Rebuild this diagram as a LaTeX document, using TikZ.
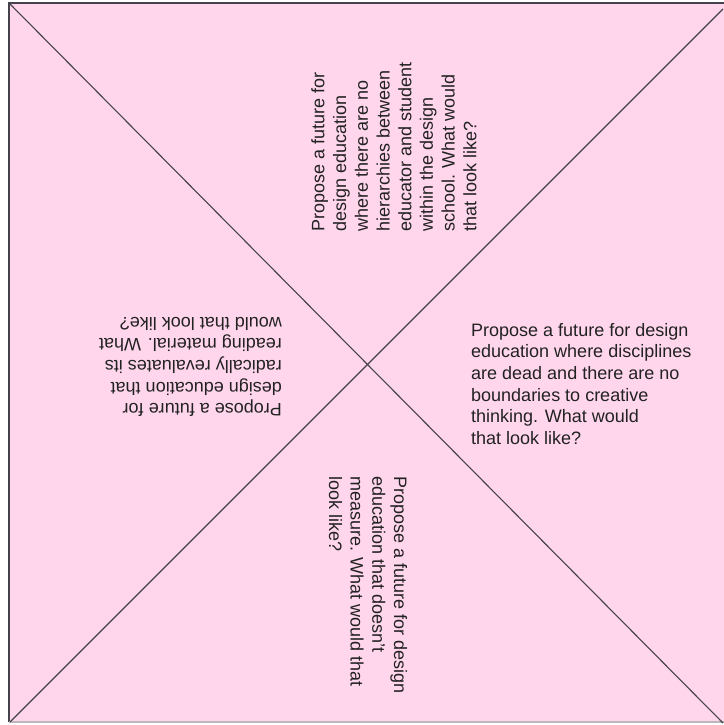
\documentclass[tikz,border=0pt]{standalone}
\usepackage{fontspec}
\setmainfont{Liberation Sans}
\usetikzlibrary{positioning}
\definecolor{sqpink}{HTML}{FFD6EC}
\definecolor{sqline}{HTML}{45424A}
\definecolor{sqtext}{HTML}{222222}
\definecolor{sqrim}{HTML}{BDB8BC}
\tikzset{
  prompt/.style ={anchor=west, align=left, inner sep=0pt, text=sqtext,
                  font=\fontsize{18}{21.7}\selectfont},
  diag/.style   ={draw=sqline, line width=1.1pt},
  rimdark/.style={draw=sqline, line width=1.6pt},
  rimlight/.style={draw=sqrim, line width=1.2pt},
}
\begin{document}
\begin{tikzpicture}[x=1pt,y=-1pt]
  \useasboundingbox (0,0) rectangle (723,725);
  % corners of the sheet
  \coordinate (nw) at (9,3);
  \coordinate (ne) at (724,3);
  \coordinate (sw) at (9,722);
  \coordinate (se) at (724,722);
  \fill[sqpink] (nw) rectangle (se);
  \draw[rimdark] (sw) -- (nw) -- (ne);
  \draw[rimlight] (sw) -- (se);

  % the two diagonals
  \coordinate (d1a) at (10,4);
  \coordinate (d1b) at (723,723);
  \coordinate (d2a) at (10,722);
  \coordinate (d2b) at (723,9);
  \draw[diag] (d1a) -- (d1b);
  \draw[diag] (d2a) -- (d2b);

  % one prompt per quarter
  \node[prompt, rotate=90] (north) at (394,232) {Propose a future for\\design education\\where there are no\\hierarchies between\\educator and student\\within the design\\school. What would\\that look like?};
  \node[prompt] (east) at (471,384) {Propose a future for design\\education where disciplines\\are dead and there are no\\boundaries to creative\\thinking. What would\\that look like?};
  \node[prompt, rotate=-90] (south) at (368,476) {Propose a future for design\\education that doesn't\\measure. What would that\\look like?};
  \node[prompt, rotate=180] (west) at (282,367) {Propose a future for\\design education that\\radically revaluates its\\reading material. What\\would that look like?};
\end{tikzpicture}
\end{document}
